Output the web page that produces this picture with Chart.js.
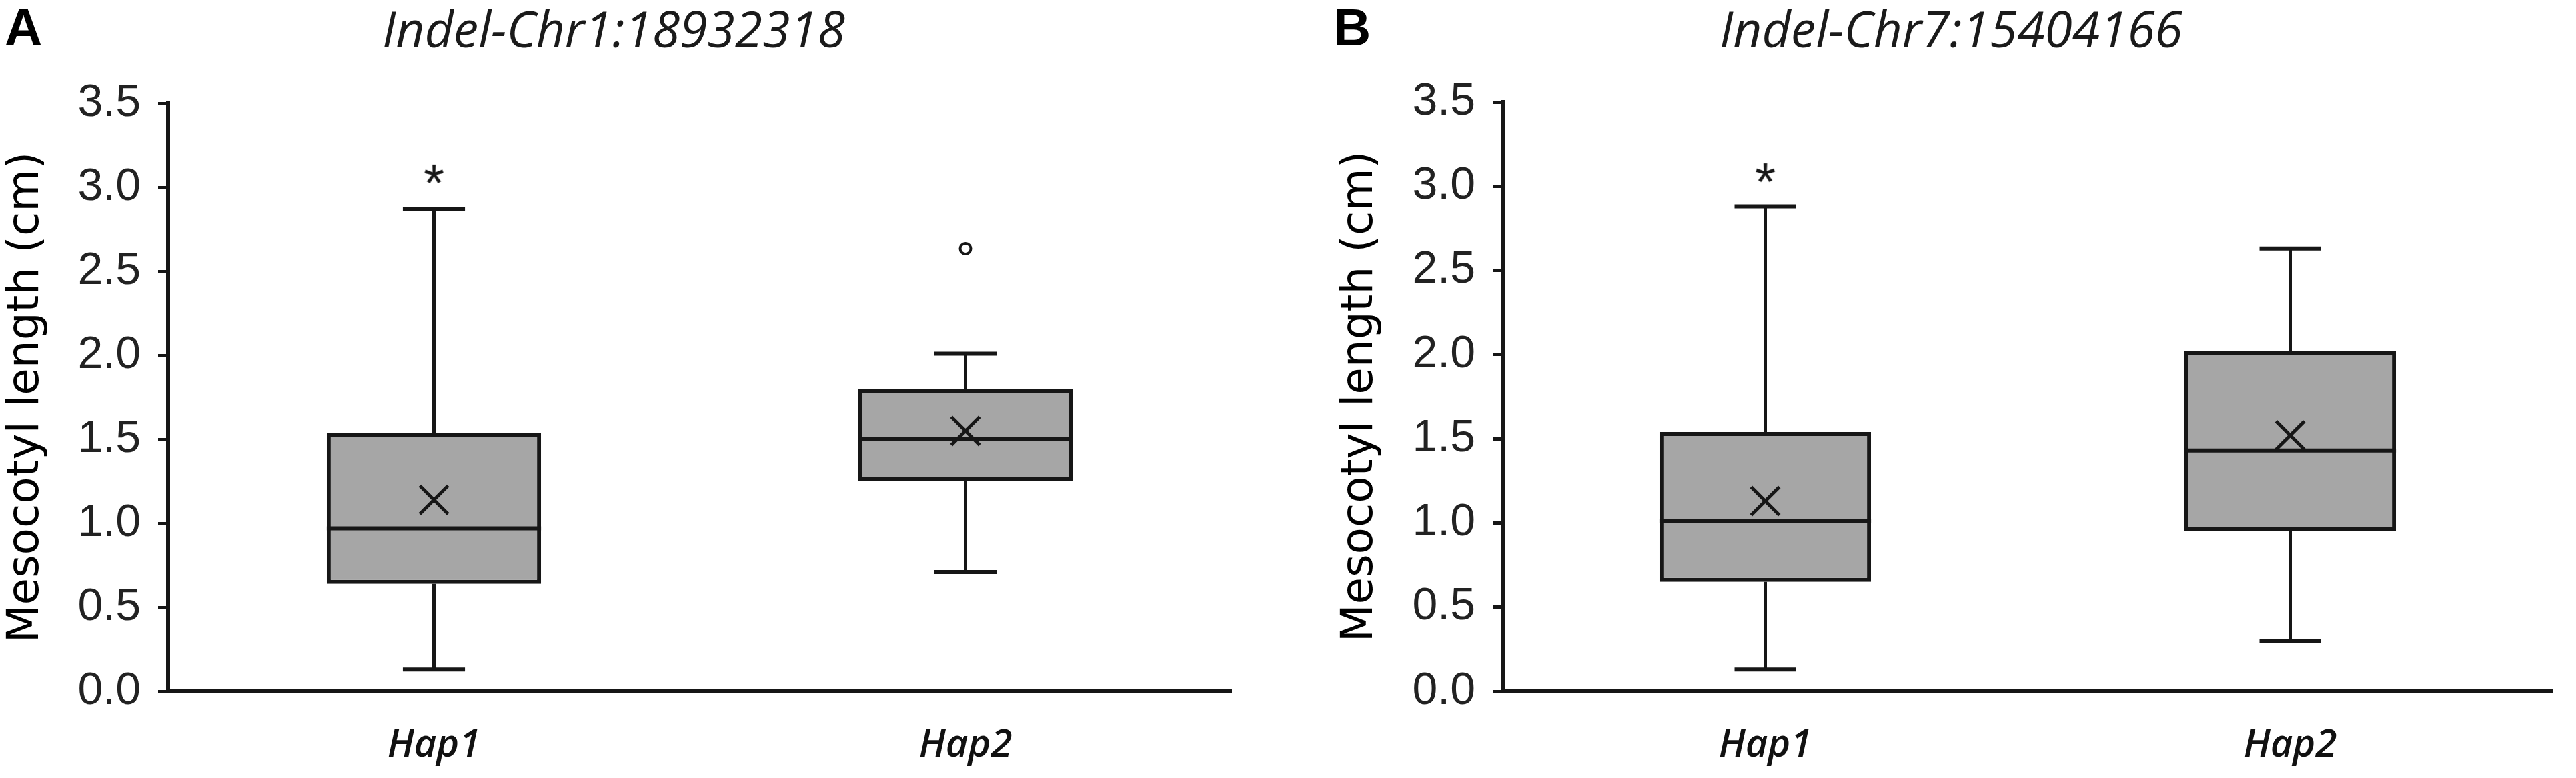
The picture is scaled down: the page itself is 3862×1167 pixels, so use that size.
<!DOCTYPE html>
<html>
<head>
<meta charset="utf-8">
<script src="https://cdn.jsdelivr.net/npm/chart.js@4.4.1/dist/chart.umd.min.js"></script>
<style>
  html, body { margin: 0; padding: 0; background: #fff; }
  body { width: 3862px; height: 1167px; position: relative; overflow: hidden; }
  canvas { position: absolute; top: 0; }
  .tag { position: absolute; top: 2px; font: bold 78px "Liberation Sans", Arial, sans-serif; line-height: 1; color: #000; }
  .title { position: absolute; top: 5px; width: 1000px; text-align: center; font: italic 75px "Open Sans", sans-serif; line-height: 1; color: #1a1a1a; white-space: nowrap; }
</style>
</head>
<body>
<div class="tag" style="left:7px">A</div>
<div class="tag" style="left:1999px">B</div>
<div class="title" id="titleA" style="left:420px"></div>
<div class="title" id="titleB" style="left:2425px"></div>
<canvas id="chartA" width="2000" height="1167" style="left:0"></canvas>
<canvas id="chartB" width="1862" height="1167" style="left:2000px"></canvas>

<script>
// dữ liệu
const categories = ['Hap1', 'Hap2'];
const yTicks = [0, 0.5, 1.0, 1.5, 2.0, 2.5, 3.0, 3.5];
const yTitle = 'Mesocotyl length (cm)';

// A: Indel-Chr1:18932318
const titleA = 'Indel-Chr1:18932318';
const minA = [0.13, 0.71];
const q1A = [0.64, 1.25];
const medianA = [0.97, 1.50];
const q3A = [1.54, 1.80];
const maxA = [2.87, 2.01];
const meanA = [1.14, 1.55];
const outlierA = [null, 2.635];
const extremeA = [3.08, null];

// B: Indel-Chr7:15404166
const titleB = 'Indel-Chr7:15404166';
const minB = [0.13, 0.30];
const q1B = [0.65, 0.95];
const medianB = [1.01, 1.43];
const q3B = [1.54, 2.02];
const maxB = [2.88, 2.63];
const meanB = [1.13, 1.52];
const outlierB = [null, null];
const extremeB = [3.08, null];

const ink = '#161616';
const boxFill = '#a6a6a6';

document.getElementById('titleA').textContent = titleA;
document.getElementById('titleB').textContent = titleB;

// dấu * cho giá trị cực trị
function makeStar() {
    const c = document.createElement('canvas');
    c.width = 50; c.height = 54;
    const g = c.getContext('2d');
    g.font = '80px "Liberation Sans", Arial, sans-serif';
    g.fillStyle = ink;
    const m = g.measureText('*');
    const x = c.width / 2 - (m.actualBoundingBoxRight - m.actualBoundingBoxLeft) / 2;
    const y = c.height / 2 + (m.actualBoundingBoxAscent - m.actualBoundingBoxDescent) / 2;
    g.fillText('*', x, y);
    return c;
}
const starImg = makeStar();

// plugin vẽ râu và trung vị từ thang đo của Chart.js
function boxPlugin(stats) {
    return {
        id: 'boxPlot',
        beforeDatasetsDraw(chart) {
            const meta = chart.getDatasetMeta(0);
            const y = chart.scales.y;
            const ctx = chart.ctx;
            meta.data.forEach((bar, i) => {
                const { x, width } = bar.getProps(['x', 'width'], true);
                const cap = width * 0.29 / 2;
                const yMin = y.getPixelForValue(stats.min[i]);
                const yMax = y.getPixelForValue(stats.max[i]);
                const yQ1 = y.getPixelForValue(stats.q1[i]);
                const yQ3 = y.getPixelForValue(stats.q3[i]);
                ctx.save();
                ctx.strokeStyle = ink;
                ctx.lineWidth = 5;
                ctx.beginPath();
                ctx.moveTo(x, yQ3); ctx.lineTo(x, yMax);
                ctx.moveTo(x, yQ1); ctx.lineTo(x, yMin);
                ctx.stroke();
                ctx.lineWidth = 6;
                ctx.beginPath();
                ctx.moveTo(x - cap, yMax); ctx.lineTo(x + cap, yMax);
                ctx.moveTo(x - cap, yMin); ctx.lineTo(x + cap, yMin);
                ctx.stroke();
                ctx.restore();
            });
        },
        afterDatasetDraw(chart, args) {
            if (args.index !== 0) return;
            const y = chart.scales.y;
            const ctx = chart.ctx;
            args.meta.data.forEach((bar, i) => {
                const { x, width } = bar.getProps(['x', 'width'], true);
                const ym = y.getPixelForValue(stats.median[i]);
                ctx.save();
                ctx.strokeStyle = ink;
                ctx.lineWidth = 6;
                ctx.beginPath();
                ctx.moveTo(x - width / 2, ym); ctx.lineTo(x + width / 2, ym);
                ctx.stroke();
                ctx.restore();
            });
        }
    };
}

function renderChart(canvasId, stats, frame) {
    const canvas = document.getElementById(canvasId);
    return new Chart(canvas, {
        type: 'bar',
        data: {
            labels: categories,
            datasets: [
                {
                    type: 'bar',
                    data: stats.q1.map((v, i) => [v, stats.q3[i]]),
                    backgroundColor: boxFill,
                    borderColor: ink,
                    borderWidth: 6,
                    borderSkipped: false,
                    barPercentage: 0.403,
                    categoryPercentage: 1,
                    order: 2
                },
                {
                    type: 'line', data: stats.mean, showLine: false,
                    pointStyle: 'crossRot', pointRadius: 30, pointBorderWidth: 5,
                    pointBorderColor: ink, order: 1
                },
                {
                    type: 'line', data: stats.outlier, showLine: false,
                    pointStyle: 'circle', pointRadius: 8, pointBorderWidth: 4,
                    pointBorderColor: ink, pointBackgroundColor: '#fff', order: 1
                },
                {
                    type: 'line', data: stats.extreme, showLine: false,
                    pointStyle: starImg, pointRadius: 14, order: 1
                }
            ]
        },
        options: {
            responsive: false,
            animation: false,
            devicePixelRatio: 1,
            events: [],
            layout: { padding: { top: frame.top, right: canvas.width - frame.right, left: 0, bottom: 0 } },
            plugins: { legend: { display: false }, tooltip: { enabled: false } },
            scales: {
                x: {
                    offset: true,
                    grid: { drawOnChartArea: false, drawTicks: false },
                    border: { display: true, color: ink, width: 6 },
                    ticks: {
                        color: '#111', padding: 47,
                        font: { family: '"Open Sans", sans-serif', size: 58, style: 'italic', weight: '600' }
                    },
                    afterFit: s => { s.height = canvas.height - frame.bottom; }
                },
                y: {
                    min: 0, max: 3.5,
                    afterBuildTicks: s => { s.ticks = yTicks.map(v => ({ value: v })); },
                    grid: { drawOnChartArea: false, drawTicks: true, tickLength: 15, lineWidth: 5, color: ink },
                    border: { color: ink, width: 6 },
                    ticks: {
                        color: '#222', padding: 26,
                        font: { family: '"Liberation Sans", Arial, sans-serif', size: 68 },
                        callback: v => Number(v).toFixed(1)
                    },
                    title: {
                        display: true, text: yTitle, color: '#000', padding: 0,
                        font: { family: '"DejaVu Sans", sans-serif', size: 66 }
                    },
                    afterFit: s => { s.width = frame.left; }
                }
            }
        },
        plugins: [boxPlugin(stats)]
    });
}

renderChart('chartA',
    { min: minA, q1: q1A, median: medianA, q3: q3A, max: maxA, mean: meanA, outlier: outlierA, extreme: extremeA },
    { left: 252, right: 1846, top: 155, bottom: 1037 });

renderChart('chartB',
    { min: minB, q1: q1B, median: medianB, q3: q3B, max: maxB, mean: meanB, outlier: outlierB, extreme: extremeB },
    { left: 253, right: 1848, top: 153, bottom: 1037 });
</script>
</body>
</html>
